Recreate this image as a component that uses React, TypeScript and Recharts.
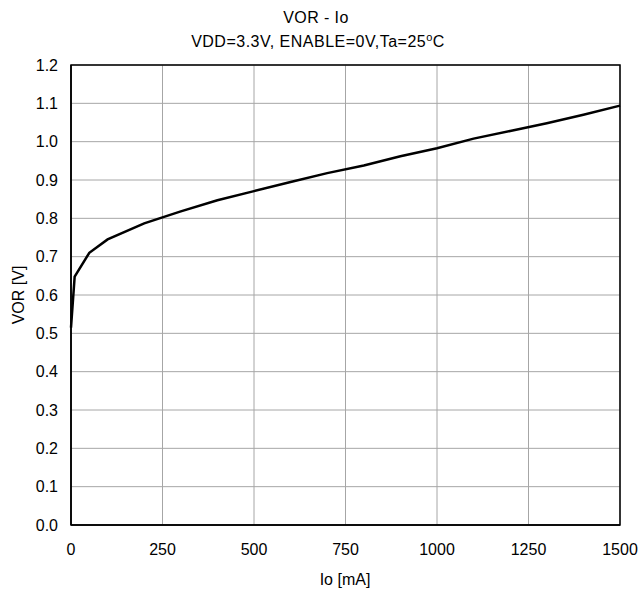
import { LineChart, Line, XAxis, YAxis, CartesianGrid, ReferenceArea } from "recharts";

const ioValues = [0, 10, 50, 100, 200, 300, 400, 500, 600, 700, 800, 900, 1000, 1100, 1200, 1300, 1400, 1500];
const vorValues = [0.515, 0.648, 0.71, 0.745, 0.787, 0.818, 0.847, 0.871, 0.895, 0.918, 0.938, 0.962, 0.983, 1.008, 1.028, 1.048, 1.07, 1.094];
const xTicks = [0, 250, 500, 750, 1000, 1250, 1500];
const yTicks = [0, 0.1, 0.2, 0.3, 0.4, 0.5, 0.6, 0.7, 0.8, 0.9, 1.0, 1.1, 1.2];

const data = ioValues.map((io, i) => ({ io, vor: vorValues[i] }));

const font = "'Liberation Sans', Arial, sans-serif";
const fs = 16;

const App = () => {
  return (
    <div style={{ position: "absolute", left: 0, top: 0, width: 638, height: 595, background: "#fff", fontFamily: font }}>
      <LineChart width={638} height={595} data={data} margin={{ top: 65, right: 18, bottom: 10, left: 0 }}>
        <text x={316} y={23} textAnchor="middle" fontSize={fs} fill="#000" fontFamily={font} letterSpacing={0.4}>
          VOR - Io
        </text>
        <text x={318} y={47} textAnchor="middle" fontSize={fs} fill="#000" fontFamily={font} letterSpacing={0.5}>
          VDD=3.3V,  ENABLE=0V,Ta=25<tspan dy={-6} fontSize={11}>o</tspan>
          <tspan dy={6}>C</tspan>
        </text>
        <text x={345} y={585} textAnchor="middle" fontSize={fs} fill="#000" fontFamily={font}>
          Io [mA]
        </text>
        <text x={24} y={295} textAnchor="middle" fontSize={fs} fill="#000" fontFamily={font} transform="rotate(-90 24 295)">
          VOR [V]
        </text>
        <CartesianGrid stroke="#a6a6a6" strokeWidth={1} />
        <XAxis
          dataKey="io"
          type="number"
          domain={[0, 1500]}
          ticks={xTicks}
          height={60}
          tickLine={false}
          axisLine={{ stroke: "#000", strokeWidth: 1.5 }}
          tick={{ fill: "#000", fontSize: fs, fontFamily: font }}
          tickMargin={13}
        />
        <YAxis
          type="number"
          domain={[0, 1.2]}
          ticks={yTicks}
          width={71}
          tickLine={false}
          axisLine={{ stroke: "#000", strokeWidth: 1.5 }}
          tickFormatter={(v: number) => v.toFixed(1)}
          tick={{ fill: "#000", fontSize: fs, fontFamily: font }}
          tickMargin={7}
        />
        <ReferenceArea x1={0} x2={1500} y1={0} y2={1.2} fill="none" stroke="#000" strokeWidth={1.5} ifOverflow="visible" />
        <Line type="linear" dataKey="vor" stroke="#000" strokeWidth={2.5} dot={false} isAnimationActive={false} />
      </LineChart>
    </div>
  );
};

export default App;
